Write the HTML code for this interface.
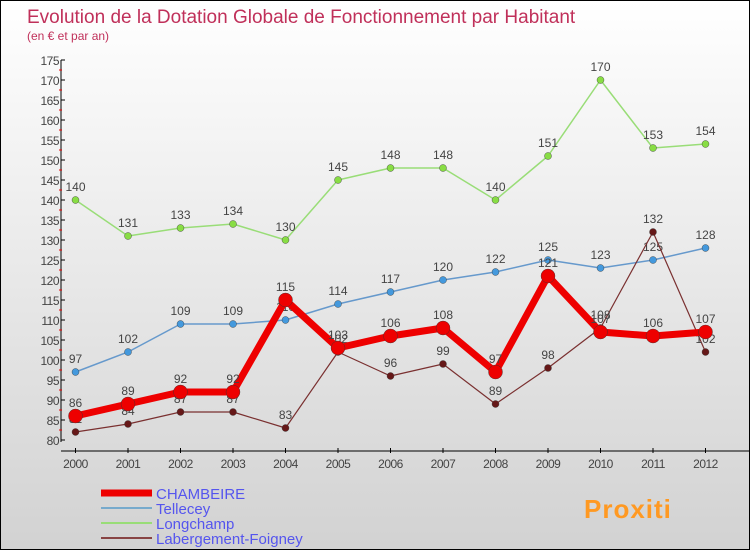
<!DOCTYPE html>
<html><head><meta charset="utf-8"><style>
body{margin:0}
#c{position:relative;width:748px;height:548px;border:1px solid #000;background:linear-gradient(#ffffff,#d2d2d2);font-family:"Liberation Sans",sans-serif;overflow:hidden}
svg{position:absolute;left:0;top:0}
</style></head><body>
<div id="c">
<svg id="s" width="748" height="548"></svg>
</div>
<script>
const years=['2000','2001','2002','2003','2004','2005','2006','2007','2008','2009','2010','2011','2012'];
const chambeire=[86,89,92,92,115,103,106,108,97,121,107,106,107];
const tellecey=[97,102,109,109,110,114,117,120,122,125,123,125,128];
const longchamp=[140,131,133,134,130,145,148,148,140,151,170,153,154];
const labergement=[82,84,87,87,83,102,96,99,89,98,108,132,102];
const yTicks=[80,85,90,95,100,105,110,115,120,125,130,135,140,145,150,155,160,165,170,175];
const NS='http://www.w3.org/2000/svg';
const s=document.getElementById('s');
function x(i){return 74.5+i*52.5;}
function y(v){return 439-(v-80)*4;}
function el(t,a,p){const e=document.createElementNS(NS,t);for(const k in a)e.setAttribute(k,a[k]);(p||s).appendChild(e);return e;}
function txt(str,a){const e=el('text',a);e.textContent=str;return e;}
const t1=txt('Evolution de la Dotation Globale de Fonctionnement par Habitant',{x:26,y:22,'font-size':19,fill:'#c0305a'});

const t2=txt('(en € et par an)',{x:26,y:39,'font-size':12,fill:'#c0305a'});

// y axis
const ya=el('line',{x1:60,y1:59,x2:60,y2:441,stroke:'#000','stroke-width':1});

yTicks.forEach(v=>{
  el('line',{x1:60,y1:y(v),x2:64,y2:y(v),stroke:'#000'});
  if(v<175) el('line',{x1:58,y1:y(v+2.5),x2:61,y2:y(v+2.5),stroke:'#e00'});
  const t=txt(String(v),{x:58,y:y(v)+5,'font-size':12,fill:'#444','text-anchor':'end','letter-spacing':'-0.5'});
  
});
// x axis
const xa=el('line',{x1:60,y1:450,x2:748,y2:450,stroke:'#000'});

years.forEach((yr,i)=>{
  el('line',{x1:x(i),y1:447,x2:x(i),y2:452,stroke:'#000'});
  const t=txt(yr,{x:x(i),y:467,'font-size':12,fill:'#444','text-anchor':'middle','letter-spacing':'-0.5'});
  
});
function series(name,data,color,w,r,dot){
  const g=el('g',{});
  
  el('polyline',{points:data.map((v,i)=>x(i)+','+y(v)).join(' '),fill:'none',stroke:color,'stroke-width':w,'stroke-linejoin':'round'},g);
  data.forEach((v,i)=>{
    const c=el('circle',{cx:x(i),cy:y(v),r:r,fill:dot,stroke:'#333','stroke-width':0.4},g);
    
    const t=el('text',{x:x(i),y:y(v)-9,'font-size':12,fill:'#444','text-anchor':'middle'},g);
    t.textContent=v;
  });
}
series('longchamp',longchamp,'#99dd77',1.5,3.5,'#88dd44');
series('tellecey',tellecey,'#6699cc',1.5,3.5,'#4499dd');
series('labergement',labergement,'#7a3030',1.2,3.5,'#661818');
series('chambeire',chambeire,'#ee0000',7,7,'#ee0000');
// legend
const leg=[['CHAMBEIRE','#ee0000',7],['Tellecey','#77aacc',2],['Longchamp','#99dd77',2],['Labergement-Foigney','#884444',2]];
leg.forEach((l,i)=>{
  const yy=492+i*15;
  const g=el('g',{});
  
  el('line',{x1:100,y1:yy,x2:151,y2:yy,stroke:l[1],'stroke-width':l[2]},g);
  const t=el('text',{x:155,y:yy+6,'font-size':15,fill:'#5555ee'},g);t.textContent=l[0];
});
const p=txt('Proxiti',{x:583,y:517,'font-size':26,'font-weight':'bold',fill:'#ff9922','letter-spacing':'1'});

</script>
</body></html>
